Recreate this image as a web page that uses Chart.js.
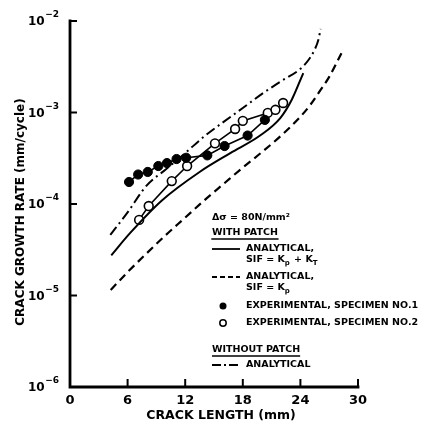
<!DOCTYPE html>
<html><head><meta charset="utf-8">
<script src="https://cdn.jsdelivr.net/npm/chart.js@4.4.1/dist/chart.umd.min.js"></script>
<style>html,body{margin:0;padding:0;background:#fff}#wrap{width:427px;height:425px}</style>
</head><body><div id="wrap"><canvas id="c" width="427" height="425"></canvas></div>
<script>
// ---- data ----
const xTicks = [0, 6, 12, 18, 24, 30];
const yTickExps = [-2, -3, -4, -5, -6];

const withoutPatchX = [4.2, 6, 8, 10, 12, 14, 16, 18, 20, 22, 24, 24.8, 25.5, 25.9, 26.1];
const withoutPatchY = [4.6e-5, 8.1e-5, 1.6e-4, 2.4e-4, 3.6e-4, 5.5e-4, 7.9e-4, 1.12e-3, 1.6e-3, 2.2e-3, 3.0e-3, 3.7e-3, 4.9e-3, 6.4e-3, 8.2e-3];

const kpktX = [4.3, 6.25, 9.6, 13.5, 16.7, 19.8, 21.9, 23.1, 24.3];
const kpktY = [2.75e-5, 4.8e-5, 1.1e-4, 2.24e-4, 3.6e-4, 5.6e-4, 8.7e-4, 1.38e-3, 2.7e-3];

const kpX = [4.24, 6, 8, 10, 12, 14, 16, 18, 20, 22, 24, 25, 26, 27, 28.3];
const kpY = [1.15e-5, 1.8e-5, 2.9e-5, 4.6e-5, 7.1e-5, 1.1e-4, 1.66e-4, 2.5e-4, 3.7e-4, 5.6e-4, 9.0e-4, 1.2e-3, 1.7e-3, 2.45e-3, 4.5e-3];

const spec1X = [6.15, 7.1, 8.1, 9.2, 10.1, 11.1, 12.1, 14.3, 16.1, 18.5, 20.3];
const spec1Y = [1.74e-4, 2.1e-4, 2.24e-4, 2.6e-4, 2.8e-4, 3.1e-4, 3.2e-4, 3.4e-4, 4.3e-4, 5.6e-4, 8.3e-4];

const spec2X = [7.2, 8.2, 10.6, 12.2, 15.1, 17.2, 18.0, 20.6, 21.4, 22.2];
const spec2Y = [6.7e-5, 9.5e-5, 1.78e-4, 2.6e-4, 4.6e-4, 6.6e-4, 8.1e-4, 9.9e-4, 1.07e-3, 1.27e-3];

const xTitle = 'CRACK LENGTH (mm)';
const yTitle = 'CRACK GROWTH RATE (mm/cycle)';

const pts = (xs, ys) => xs.map((x, i) => ({x: x, y: ys[i]}));
const F = '"DejaVu Sans", sans-serif';

const deco = {
  id: 'deco',
  afterDraw(chart) {
    const ctx = chart.ctx, xs = chart.scales.x, ys = chart.scales.y;
    const L = xs.getPixelForValue(0), R = xs.getPixelForValue(30);
    const T = ys.getPixelForValue(1e-2), B = ys.getPixelForValue(1e-6);
    ctx.save();
    ctx.strokeStyle = '#000'; ctx.fillStyle = '#000';
    ctx.lineWidth = 2.8; ctx.lineCap = 'square'; ctx.setLineDash([]);
    ctx.beginPath(); ctx.moveTo(L, T); ctx.lineTo(L, B); ctx.lineTo(R, B); ctx.stroke();
    ctx.lineWidth = 2;
    yTickExps.forEach(e => {
      const y = ys.getPixelForValue(Math.pow(10, e));
      ctx.beginPath(); ctx.moveTo(L, y); ctx.lineTo(L + 6, y); ctx.stroke();
    });
    xTicks.forEach(v => {
      if (v === 0) return;
      const x = xs.getPixelForValue(v);
      ctx.beginPath(); ctx.moveTo(x, B); ctx.lineTo(x, B - 7); ctx.stroke();
    });
    // y tick labels
    ctx.textBaseline = 'middle';
    yTickExps.forEach(e => {
      const y = ys.getPixelForValue(Math.pow(10, e));
      const sup = '\u2212' + Math.abs(e);
      ctx.font = 'bold 9px ' + F;
      const sw = ctx.measureText(sup).width;
      ctx.textAlign = 'right';
      ctx.fillText(sup, 59, y - 6);
      ctx.font = 'bold 12px ' + F;
      ctx.fillText('10', 59 - sw - 0.5, y + 1);
    });
    // x tick labels
    ctx.font = 'bold 13px ' + F; ctx.textAlign = 'center';
    xTicks.forEach(v => ctx.fillText(String(v), xs.getPixelForValue(v), 401));
    // titles
    ctx.font = 'bold 12.5px ' + F;
    ctx.fillText(xTitle, 221, 416);
    ctx.save(); ctx.translate(21, 212); ctx.rotate(-Math.PI / 2);
    ctx.font = 'bold 12px ' + F; ctx.fillText(yTitle, 0, 0); ctx.restore();

    // legend block
    const lx = 212, tx = 246;
    const LF = 'bold 9.5px ' + F, SF = 'bold 7px ' + F;
    ctx.textAlign = 'left'; ctx.textBaseline = 'middle';
    ctx.font = LF;
    ctx.fillText('\u0394\u03c3 = 80N/mm\u00b2', lx, 218);
    const under = (txt, y) => {
      ctx.fillText(txt, lx, y);
      const w = ctx.measureText(txt).width;
      ctx.lineWidth = 1.4; ctx.setLineDash([]);
      ctx.beginPath(); ctx.moveTo(lx, y + 6); ctx.lineTo(lx + w, y + 6); ctx.stroke();
    };
    under('WITH PATCH', 233);
    const sym = (y, dash) => {
      ctx.lineWidth = 1.8; ctx.lineCap = 'butt'; ctx.setLineDash(dash);
      ctx.beginPath(); ctx.moveTo(lx, y); ctx.lineTo(lx + 28, y); ctx.stroke();
      ctx.setLineDash([]);
    };
    sym(249, []);
    ctx.fillText('ANALYTICAL,', tx, 249);
    const sif = (y, withKT) => {
      let x = tx;
      ctx.font = LF;
      const s1 = 'SIF = K'; ctx.fillText(s1, x, y); x += ctx.measureText(s1).width;
      ctx.font = SF; ctx.fillText('p', x, y + 3); x += ctx.measureText('p').width + 1;
      if (withKT) {
        ctx.font = LF;
        const s2 = ' + K'; ctx.fillText(s2, x, y); x += ctx.measureText(s2).width;
        ctx.font = SF; ctx.fillText('T', x, y + 3);
      }
      ctx.font = LF;
    };
    sif(260, true);
    sym(277, [5, 3]);
    ctx.fillText('ANALYTICAL,', tx, 277);
    sif(288, false);
    ctx.beginPath(); ctx.arc(223, 306, 3.5, 0, Math.PI * 2); ctx.fill();
    ctx.fillText('EXPERIMENTAL, SPECIMEN NO.1', tx, 306);
    ctx.lineWidth = 1.5;
    ctx.beginPath(); ctx.arc(223, 323, 3.2, 0, Math.PI * 2); ctx.fillStyle = '#fff'; ctx.fill(); ctx.stroke();
    ctx.fillStyle = '#000';
    ctx.fillText('EXPERIMENTAL, SPECIMEN NO.2', tx, 323);
    under('WITHOUT PATCH', 350);
    sym(365, [9, 3, 2, 3]);
    ctx.fillText('ANALYTICAL', tx, 365);
    ctx.restore();
  }
};

new Chart(document.getElementById('c'), {
  type: 'scatter',
  data: {
    datasets: [
      {data: pts(withoutPatchX, withoutPatchY), showLine: true, borderColor: '#000', borderWidth: 2,
       borderDash: [10, 4, 2, 4], pointRadius: 0, cubicInterpolationMode: 'monotone'},
      {data: pts(kpktX, kpktY), showLine: true, borderColor: '#000', borderWidth: 2,
       pointRadius: 0, cubicInterpolationMode: 'monotone'},
      {data: pts(kpX, kpY), showLine: true, borderColor: '#000', borderWidth: 2.2,
       borderDash: [8, 5], pointRadius: 0, cubicInterpolationMode: 'monotone'},
      {data: pts(spec1X, spec1Y), showLine: true, borderColor: '#000', borderWidth: 1.6,
       pointRadius: 4.6, pointBackgroundColor: '#000', pointBorderColor: '#000', pointBorderWidth: 1},
      {data: pts(spec2X, spec2Y), showLine: true, borderColor: '#000', borderWidth: 1.6,
       pointRadius: 4.4, pointBackgroundColor: '#fff', pointBorderColor: '#000', pointBorderWidth: 1.6}
    ]
  },
  options: {
    responsive: false, animation: false, devicePixelRatio: 1,
    layout: {padding: {left: 70, top: 21, right: 69, bottom: 38}},
    plugins: {legend: {display: false}, tooltip: {enabled: false}},
    scales: {
      x: {type: 'linear', min: 0, max: 30, display: false},
      y: {type: 'logarithmic', min: 1e-6, max: 1e-2, display: false}
    }
  },
  plugins: [deco]
});
</script></body></html>
